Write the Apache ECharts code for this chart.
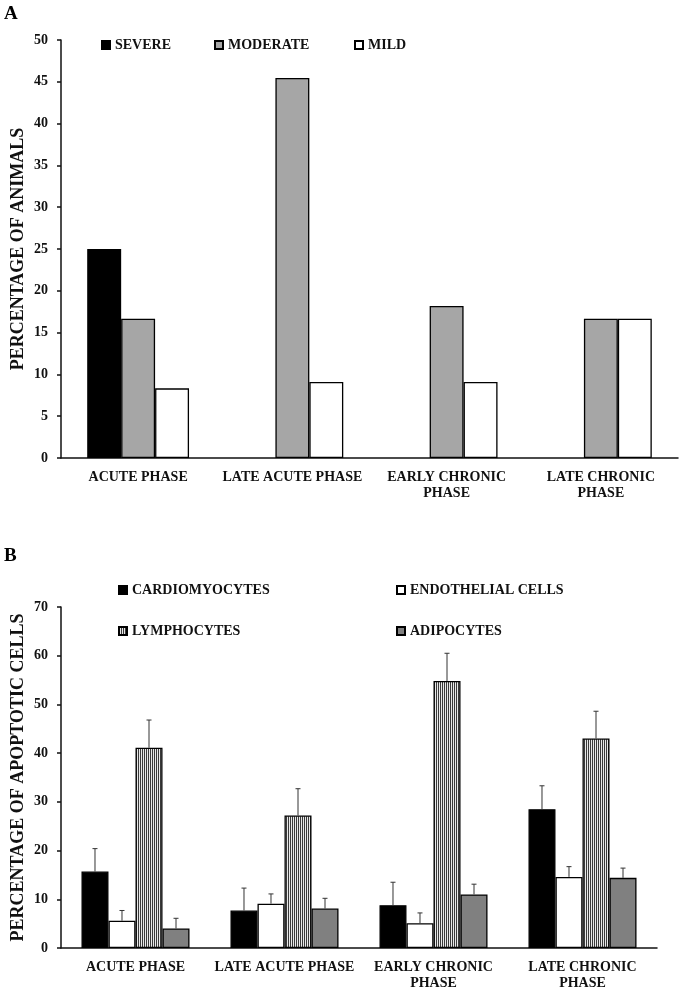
<!DOCTYPE html>
<html>
<head>
    <meta charset="utf-8">
    <title>ECharts</title>
    <script src="https://cdn.jsdelivr.net/npm/echarts@6/dist/echarts.min.js"></script>
    <style>
        html, body { margin: 0; padding: 0; background: #fff; }
    </style>
</head>
<body>
    <div id="main" style="width: 684px;height:991px;"></div>
    <script type="text/javascript">
        // panel A data
        var phasesA = ['ACUTE PHASE', 'LATE ACUTE PHASE', 'EARLY CHRONIC\nPHASE', 'LATE CHRONIC\nPHASE'];
        var severe = [25, 0, 0, 0];
        var moderate = [16.67, 45.45, 18.18, 16.67];
        var mild = [8.33, 9.09, 9.09, 16.67];
        var ticksA = [0, 50, 5];

        // panel B data (mean, upper error)
        var phasesB = ['ACUTE PHASE', 'LATE ACUTE PHASE', 'EARLY CHRONIC\nPHASE', 'LATE CHRONIC\nPHASE'];
        var cardio = [15.7, 7.7, 8.8, 28.5];
        var cardioErr = [4.7, 4.6, 4.7, 4.8];
        var endo = [5.6, 9.1, 5.1, 14.6];
        var endoErr = [2.1, 2.0, 2.1, 2.1];
        var lympho = [41.1, 27.2, 54.8, 43.0];
        var lymphoErr = [5.7, 5.5, 5.7, 5.6];
        var adipo = [4.0, 8.1, 11.0, 14.4];
        var adipoErr = [2.1, 2.1, 2.1, 2.0];
        var ticksB = [0, 70, 10];

        var font = 'Liberation Serif, Times New Roman, serif';
        var txt = {fontFamily: font, fontWeight: 'bold', fontSize: 14, color: '#111'};

        // vertical stripes for lymphocytes
        var cv = document.createElement('canvas');
        cv.width = 2; cv.height = 2;
        var cx = cv.getContext('2d');
        cx.fillStyle = '#e8e8e8'; cx.fillRect(0, 0, 2, 2);
        cx.fillStyle = '#3a3a3a'; cx.fillRect(0, 0, 1, 2);

        var myChart = echarts.init(document.getElementById('main'));

        // zero bars are not drawn in the original
        function noZero(arr) {
            return arr.map(function (v) { return v === 0 ? '-' : v; });
        }

        function errSeries(vals, errs, k, gap, n) {
            var d = vals.map(function (v, i) { return [i, v, errs[i]]; });
            return {
                type: 'custom',
                xAxisIndex: 1,
                yAxisIndex: 1,
                z: 5,
                silent: true,
                data: d,
                encode: {x: 0, y: 1},
                renderItem: function (params, api) {
                    var ci = api.value(0), v = api.value(1), e = api.value(2);
                    var band = api.size([1, 0])[0];
                    var bw = band * (1 - gap) / n;
                    var p0 = api.coord([ci, v]);
                    var p1 = api.coord([ci, v + e]);
                    var x = p0[0] + (k - (n - 1) / 2) * bw;
                    var st = {stroke: '#333', lineWidth: 1};
                    return {
                        type: 'group',
                        children: [
                            {type: 'line', shape: {x1: x, y1: p0[1], x2: x, y2: p1[1]}, style: st},
                            {type: 'line', shape: {x1: x - 2.5, y1: p1[1], x2: x + 2.5, y2: p1[1]}, style: st}
                        ]
                    };
                }
            };
        }

        function barStyle(c) {
            return {color: c, borderColor: '#000', borderWidth: 1.3};
        }

        var gapB = 0.275;
        var leg = {icon: 'rect', itemWidth: 8, itemHeight: 8, padding: 0, textStyle: txt};

        var option = {
            animation: false,
            title: [
                {text: 'A', left: 4, top: 5, padding: 0, textStyle: {fontFamily: font, fontWeight: 'bold', fontSize: 19, color: '#000'}},
                {text: 'B', left: 4, top: 547, padding: 0, textStyle: {fontFamily: font, fontWeight: 'bold', fontSize: 19, color: '#000'}}
            ],
            legend: [
                Object.assign({data: ['SEVERE'], left: 101, top: 38}, leg),
                Object.assign({data: ['MODERATE'], left: 214, top: 38}, leg),
                Object.assign({data: ['MILD'], left: 354, top: 38}, leg),
                Object.assign({data: ['CARDIOMYOCYTES', 'LYMPHOCYTES'], orient: 'vertical', left: 118, top: 583, itemGap: 27}, leg),
                Object.assign({data: ['ENDOTHELIAL CELLS', 'ADIPOCYTES'], orient: 'vertical', left: 396, top: 583, itemGap: 27}, leg)
            ],
            grid: [
                {left: 61, right: 6, top: 40, bottom: 533, containLabel: false, outerBoundsMode: 'none'},
                {left: 61, right: 27, top: 607, bottom: 43, containLabel: false, outerBoundsMode: 'none'}
            ],
            xAxis: [
                {
                    type: 'category', gridIndex: 0, data: phasesA,
                    axisLine: {lineStyle: {color: '#111', width: 1.5}},
                    axisTick: {length: 4, lineStyle: {color: '#111', width: 1.5}},
                    axisLabel: {interval: 0, margin: 11, lineHeight: 16, fontFamily: font, fontWeight: 'bold', fontSize: 14, color: '#111'}
                },
                {
                    type: 'category', gridIndex: 1, data: phasesB,
                    axisLine: {lineStyle: {color: '#111', width: 1.5}},
                    axisTick: {length: 4, lineStyle: {color: '#111', width: 1.5}},
                    axisLabel: {interval: 0, margin: 11, lineHeight: 16, fontFamily: font, fontWeight: 'bold', fontSize: 14, color: '#111'}
                }
            ],
            yAxis: [
                {
                    type: 'value', gridIndex: 0, min: ticksA[0], max: ticksA[1], interval: ticksA[2],
                    name: 'PERCENTAGE OF ANIMALS', nameLocation: 'middle', nameGap: 34, nameMoveOverlap: false,
                    nameTextStyle: {fontFamily: font, fontWeight: 'bold', fontSize: 18, color: '#111'},
                    splitLine: {show: false},
                    axisLine: {show: true, lineStyle: {color: '#111', width: 1.5}},
                    axisTick: {show: true, length: 4, lineStyle: {color: '#111', width: 1.5}},
                    axisLabel: {margin: 13, fontFamily: font, fontWeight: 'bold', fontSize: 14, color: '#111'}
                },
                {
                    type: 'value', gridIndex: 1, min: ticksB[0], max: ticksB[1], interval: ticksB[2],
                    name: 'PERCENTAGE OF APOPTOTIC CELLS', nameLocation: 'middle', nameGap: 34, nameMoveOverlap: false,
                    nameTextStyle: {fontFamily: font, fontWeight: 'bold', fontSize: 18, color: '#111'},
                    splitLine: {show: false},
                    axisLine: {show: true, lineStyle: {color: '#111', width: 1.5}},
                    axisTick: {show: true, length: 4, lineStyle: {color: '#111', width: 1.5}},
                    axisLabel: {margin: 13, fontFamily: font, fontWeight: 'bold', fontSize: 14, color: '#111'}
                }
            ],
            series: [
                {name: 'SEVERE', type: 'bar', xAxisIndex: 0, yAxisIndex: 0, data: noZero(severe), barGap: '0%', barCategoryGap: '34%', itemStyle: barStyle('#000')},
                {name: 'MODERATE', type: 'bar', xAxisIndex: 0, yAxisIndex: 0, data: noZero(moderate), barGap: '0%', barCategoryGap: '34%', itemStyle: barStyle('#a6a6a6')},
                {name: 'MILD', type: 'bar', xAxisIndex: 0, yAxisIndex: 0, data: noZero(mild), barGap: '0%', barCategoryGap: '34%', itemStyle: barStyle('#fff')},
                {name: 'CARDIOMYOCYTES', type: 'bar', xAxisIndex: 1, yAxisIndex: 1, data: cardio, barGap: '0%', barCategoryGap: '27.5%', itemStyle: barStyle('#000')},
                {name: 'ENDOTHELIAL CELLS', type: 'bar', xAxisIndex: 1, yAxisIndex: 1, data: endo, barGap: '0%', barCategoryGap: '27.5%', itemStyle: barStyle('#fff')},
                {name: 'LYMPHOCYTES', type: 'bar', xAxisIndex: 1, yAxisIndex: 1, data: lympho, barGap: '0%', barCategoryGap: '27.5%', itemStyle: barStyle({image: cv, repeat: 'repeat'})},
                {name: 'ADIPOCYTES', type: 'bar', xAxisIndex: 1, yAxisIndex: 1, data: adipo, barGap: '0%', barCategoryGap: '27.5%', itemStyle: barStyle('#808080')},
                errSeries(cardio, cardioErr, 0, gapB, 4),
                errSeries(endo, endoErr, 1, gapB, 4),
                errSeries(lympho, lymphoErr, 2, gapB, 4),
                errSeries(adipo, adipoErr, 3, gapB, 4)
            ]
        };
        myChart.setOption(option);
    </script>
</body>
</html>
